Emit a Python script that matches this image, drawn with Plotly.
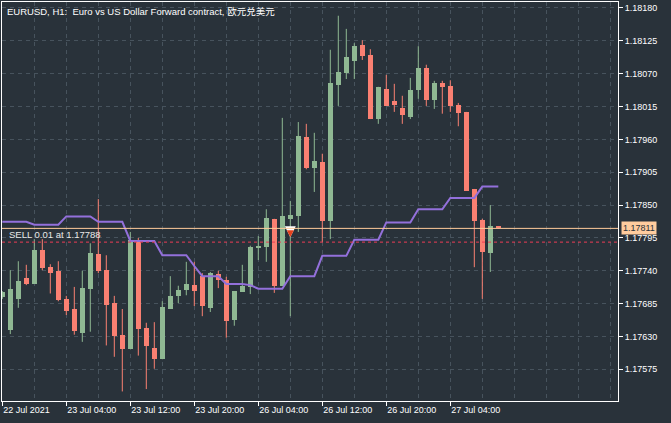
import plotly.graph_objects as go

# ---------------- data ----------------
tick_index = [0, 8, 16, 24, 32, 40, 48, 56]
tick_labels = ["22 Jul 2021", "23 Jul 04:00", "23 Jul 12:00", "23 Jul 20:00",
               "26 Jul 04:00", "26 Jul 12:00", "26 Jul 20:00", "27 Jul 04:00"]

price_ticks = [1.17575, 1.17630, 1.17685, 1.17740, 1.17795, 1.17850,
               1.17905, 1.17960, 1.18015, 1.18070, 1.18125, 1.18180]

open_ = [1.17696, 1.17641, 1.17693, 1.17728, 1.17718, 1.17775, 1.17746, 1.17740,
         1.17693, 1.17676, 1.17636, 1.17710, 1.17768, 1.17741, 1.17686, 1.17633,
         1.17609, 1.17792, 1.17644, 1.17611, 1.17592, 1.17676, 1.17698, 1.17708,
         1.17716, 1.17731, 1.17678, 1.17735, 1.17725, 1.17658, 1.17705, 1.17713,
         1.17778, 1.17780, 1.17827, 1.17715, 1.17827, 1.17832, 1.17964, 1.17912,
         1.17922, 1.17823, 1.18051, 1.18071, 1.18091, 1.18118, 1.18101, 1.17994,
         1.18044, 1.18024, 1.18013, 1.17998, 1.18043, 1.18080, 1.18026, 1.18054,
         1.18049, 1.18018, 1.18006, 1.17877, 1.17825, 1.17770, 1.17815]
high = [1.17706, 1.17741, 1.17756, 1.17750, 1.17793, 1.17793, 1.17751, 1.17756,
        1.17698, 1.17713, 1.17740, 1.17786, 1.17860, 1.17766, 1.17698, 1.17676,
        1.17805, 1.17795, 1.17653, 1.17654, 1.17689, 1.17731, 1.17715, 1.17755,
        1.17755, 1.17736, 1.17738, 1.17740, 1.17730, 1.17706, 1.17750, 1.17782,
        1.17798, 1.17843, 1.17827, 1.17996, 1.17857, 1.17989, 1.17986, 1.17971,
        1.17936, 1.18110, 1.18167, 1.18145, 1.18121, 1.18126, 1.18111, 1.18048,
        1.18068, 1.18053, 1.18033, 1.18063, 1.18116, 1.18085, 1.18058, 1.18058,
        1.18059, 1.18021, 1.18006, 1.17877, 1.17827, 1.17850, 1.17815]
low = [1.17693, 1.17634, 1.17678, 1.17716, 1.17718, 1.17741, 1.17702, 1.17689,
       1.17666, 1.17633, 1.17621, 1.17638, 1.17736, 1.17615, 1.17596, 1.17538,
       1.17609, 1.17598, 1.17542, 1.17576, 1.17592, 1.17676, 1.17686, 1.17699,
       1.17681, 1.17664, 1.17671, 1.17711, 1.17628, 1.17648, 1.17705, 1.17701,
       1.17758, 1.17755, 1.17703, 1.17715, 1.17664, 1.17805, 1.17910, 1.17872,
       1.17788, 1.17793, 1.18016, 1.18061, 1.18061, 1.18093, 1.17994, 1.17986,
       1.18016, 1.18006, 1.17986, 1.17994, 1.18028, 1.18016, 1.18011, 1.18003,
       1.18006, 1.17982, 1.17874, 1.17746, 1.17693, 1.17738, 1.17811]
close = [1.17705, 1.17710, 1.17723, 1.17718, 1.17775, 1.17745, 1.17737, 1.17691,
         1.17673, 1.17639, 1.17711, 1.17770, 1.17740, 1.17683, 1.17631, 1.17609,
         1.17792, 1.17643, 1.17614, 1.17592, 1.17679, 1.17698, 1.17708, 1.17718,
         1.17706, 1.17681, 1.17736, 1.17725, 1.17656, 1.17706, 1.17715, 1.17780,
         1.17782, 1.17828, 1.17715, 1.17832, 1.17833, 1.17966, 1.17912, 1.17924,
         1.17823, 1.18054, 1.18073, 1.18098, 1.18116, 1.18100, 1.17994, 1.18048,
         1.18016, 1.18018, 1.18001, 1.18043, 1.18080, 1.18026, 1.18054, 1.18048,
         1.18016, 1.18004, 1.17874, 1.17823, 1.17771, 1.17815, 1.17811]
indicator = [1.17822] * 4 + [1.17817] * 4 + [1.17831] * 4 + [1.17822] * 4 + \
            [1.17790] * 4 + [1.17766] * 4 + [1.17748] + [1.17731] * 3 + \
            [1.17718] * 3 + [1.17716] + [1.17710] * 4 + [1.17731] * 4 + \
            [1.17765] * 4 + [1.17792] * 4 + [1.17821] * 4 + [1.17843] * 4 + \
            [1.17862] * 4 + [1.17881] * 3

bid_price = 1.17811
sell_price = 1.17788
sell_bar = 36
sell_marker_price = 1.17796

title_text = "EURUSD, H1:\u00a0 Euro vs US Dollar Forward contract, 欧元兑美元"
sell_text = "SELL 0.01 at 1.17788"

# ---------------- style ----------------
BG = "#29323A"
GRID = "#47535D"
BULL = "#8FB893"
BEAR = "#FA8072"
PURPLE = "#9370DB"
BIDC = "#FFCB9A"
SELLC = "#EB3D55"
FONT = "Liberation Sans, Noto Sans CJK SC, sans-serif"

n = len(open_)
idx = list(range(n))

fig = go.Figure()

# wicks
for col, cond in ((BULL, lambda o, c: c >= o), (BEAR, lambda o, c: c < o)):
    xs, ys = [], []
    for i in idx:
        if cond(open_[i], close[i]):
            xs += [i, i, None]
            ys += [low[i], high[i], None]
    fig.add_trace(go.Scatter(x=xs, y=ys, mode="lines",
                             line=dict(color=col, width=1),
                             hoverinfo="skip", showlegend=False))

# bodies
base = [min(o, c) for o, c in zip(open_, close)]
height = [abs(c - o) for o, c in zip(open_, close)]
colors = [BULL if c >= o else BEAR for o, c in zip(open_, close)]
fig.add_trace(go.Bar(x=idx, y=height, base=base, width=0.625,
                     marker=dict(color=colors, line=dict(width=0)),
                     showlegend=False, hoverinfo="skip"))

# indicator line
fig.add_trace(go.Scatter(x=idx, y=indicator, mode="lines",
                         line=dict(color=PURPLE, width=2),
                         showlegend=False, hoverinfo="skip"))

# sell marker (white outline + red arrow)
fig.add_trace(go.Scatter(x=[sell_bar], y=[sell_marker_price], mode="markers",
                         marker=dict(symbol="arrow-down", size=11, color="white",
                                     line=dict(width=0)),
                         showlegend=False, hoverinfo="skip"))
fig.add_trace(go.Scatter(x=[sell_bar], y=[sell_marker_price], mode="markers",
                         marker=dict(symbol="arrow-down", size=7, color="#E3421E",
                                     line=dict(width=0)),
                         showlegend=False, hoverinfo="skip"))

# bid & sell lines
fig.add_shape(type="line", xref="paper", x0=0, x1=1, yref="y",
              y0=bid_price, y1=bid_price, line=dict(color=BIDC, width=1))
fig.add_shape(type="line", xref="paper", x0=0, x1=1, yref="y",
              y0=sell_price, y1=sell_price,
              line=dict(color=SELLC, width=1, dash="3px,3px"))

# annotations
fig.add_annotation(xref="paper", yref="paper", x=0, y=1, xanchor="left", yanchor="top",
                   xshift=3, yshift=-2, text=title_text, showarrow=False,
                   font=dict(family=FONT, size=9.5, color="white"))
fig.add_annotation(xref="paper", yref="y", x=0, y=sell_price, xanchor="left",
                   yanchor="bottom", xshift=5, yshift=0, text=sell_text, showarrow=False,
                   font=dict(family=FONT, size=9.5, color="#E8E8E8"))
fig.add_annotation(xref="paper", yref="y", x=1, y=bid_price, xanchor="left",
                   yanchor="middle", xshift=3, text=f"{bid_price:.5f}", showarrow=False,
                   bgcolor="#FFCC9E", borderpad=1,
                   font=dict(family=FONT, size=9, color="#29323A"))

minor_vals = [v for v in range(4, 77, 4) if v not in tick_index]

fig.update_layout(
    width=671, height=423,
    margin=dict(l=2, r=53, t=2, b=22),
    paper_bgcolor=BG, plot_bgcolor=BG,
    bargap=0,
    xaxis=dict(range=[-0.0375, 76.9625], tickvals=tick_index, ticktext=tick_labels,
               ticklabelposition="outside right",
               ticks="outside", ticklen=4, tickcolor="white",
               showgrid=True, gridcolor=GRID, griddash="4px,4px", gridwidth=1,
               minor=dict(tickvals=minor_vals, showgrid=True, gridcolor=GRID,
                          griddash="4px,4px", ticks=""),
               showline=True, linecolor="white", linewidth=1, mirror=True,
               zeroline=False, fixedrange=True, automargin=False,
               tickfont=dict(family=FONT, size=9, color="white")),
    yaxis=dict(range=[1.17522, 1.18190], side="right", tickvals=price_ticks,
               ticktext=[f"{v:.5f}" for v in price_ticks],
               ticks="outside", ticklen=4, tickcolor="white",
               showgrid=True, gridcolor=GRID, griddash="4px,4px", gridwidth=1,
               showline=True, linecolor="white", linewidth=1, mirror=True,
               zeroline=False, fixedrange=True, automargin=False,
               tickfont=dict(family=FONT, size=9, color="white")),
)

fig.write_html("out.html", config={"displayModeBar": False})
